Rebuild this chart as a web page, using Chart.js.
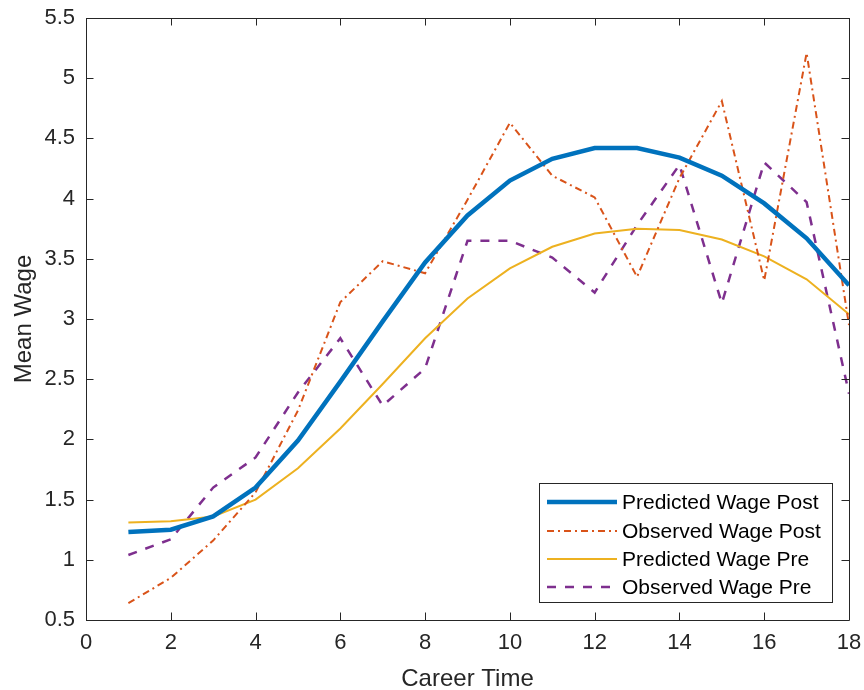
<!DOCTYPE html>
<html>
<head>
<meta charset="utf-8">
<script src="https://cdn.jsdelivr.net/npm/chart.js@4/dist/chart.umd.min.js"></script>
<style>
html,body{margin:0;padding:0;background:#fff;}
#wrap{width:864px;height:690px;position:relative;}
</style>
</head>
<body>
<div id="wrap"><canvas id="c" width="864" height="690"></canvas></div>
<script>
const careerTime = [1,2,3,4,5,6,7,8,9,10,11,12,13,14,15,16,17,18];
const predictedWagePost = [1.23,1.25,1.36,1.60,1.99,2.48,2.98,3.47,3.86,4.15,4.33,4.42,4.42,4.34,4.19,3.96,3.67,3.28];
const observedWagePost  = [0.64,0.85,1.16,1.56,2.24,3.14,3.48,3.38,3.99,4.63,4.19,4.01,3.35,4.17,4.81,3.32,5.21,2.95];
const predictedWagePre  = [1.31,1.32,1.36,1.50,1.76,2.09,2.46,2.84,3.17,3.42,3.60,3.71,3.75,3.74,3.66,3.52,3.33,3.04];
const observedWagePre   = [1.04,1.17,1.60,1.85,2.39,2.84,2.28,2.59,3.65,3.65,3.51,3.22,3.78,4.28,3.13,4.30,3.97,2.38];
const seriesNames = ['Predicted Wage Post','Observed Wage Post','Predicted Wage Pre','Observed Wage Pre'];
const xTitle = 'Career Time';
const yTitle = 'Mean Wage';

const FONT = '"Liberation Sans", Arial, Helvetica, sans-serif';
const AX = '#262626';
const pts = arr => careerTime.map((x,i)=>({x:x,y:arr[i]}));

const boxPlugin = {
  id:'matlabBox',
  afterDraw(chart){
    const ctx = chart.ctx, a = chart.chartArea;
    const xs = chart.scales.x, ys = chart.scales.y;
    ctx.save();
    ctx.strokeStyle = AX; ctx.lineWidth = 1;
    ctx.beginPath();
    ctx.rect(Math.round(a.left)+0.5, Math.round(a.top)+0.5, Math.round(a.right-a.left), Math.round(a.bottom-a.top));
    ctx.stroke();
    const TL = 7.5;
    ctx.beginPath();
    xs.ticks.forEach(t=>{
      const px = Math.round(xs.getPixelForValue(t.value))+0.5;
      ctx.moveTo(px,a.bottom); ctx.lineTo(px,a.bottom-TL);
      ctx.moveTo(px,a.top); ctx.lineTo(px,a.top+TL);
    });
    ys.ticks.forEach(t=>{
      const py = Math.round(ys.getPixelForValue(t.value))+0.5;
      ctx.moveTo(a.left,py); ctx.lineTo(a.left+TL,py);
      ctx.moveTo(a.right,py); ctx.lineTo(a.right-TL,py);
    });
    ctx.stroke();
    // axis titles
    ctx.fillStyle = AX;
    ctx.font = '24px ' + FONT;
    ctx.textAlign = 'center'; ctx.textBaseline = 'middle';
    ctx.fillText(xTitle, (a.left+a.right)/2, 679);
    ctx.save();
    ctx.translate(24, (a.top+a.bottom)/2);
    ctx.rotate(-Math.PI/2);
    ctx.fillText(yTitle, 0, 0);
    ctx.restore();
    // legend
    const bx=539.5, by=483.5, bw=293, bh=119;
    ctx.fillStyle='#fff';
    ctx.fillRect(bx,by,bw,bh);
    ctx.strokeStyle='#262626'; ctx.lineWidth=1;
    ctx.strokeRect(bx,by,bw,bh);
    const rowY=[502,531,559,587];
    ctx.font='21px ' + FONT;
    ctx.textAlign='left'; ctx.textBaseline='middle';
    chart.data.datasets.forEach((ds,i)=>{
      ctx.save();
      ctx.strokeStyle=ds.borderColor; ctx.lineWidth=ds.borderWidth;
      ctx.setLineDash(ds.borderDash||[]);
      ctx.beginPath(); ctx.moveTo(547,rowY[i]); ctx.lineTo(617,rowY[i]); ctx.stroke();
      ctx.restore();
      ctx.fillStyle='#000';
      ctx.fillText(ds.label, 622, rowY[i]+1);
    });
    ctx.restore();
  }
};

new Chart(document.getElementById('c'), {
  type:'line',
  data:{
    datasets:[
      {label:seriesNames[0], data:pts(predictedWagePost), borderColor:'#0072BD', borderWidth:4.5, pointRadius:0, tension:0, fill:false},
      {label:seriesNames[1], data:pts(observedWagePost), borderColor:'#D95319', borderWidth:2, borderDash:[7,4,2,4], pointRadius:0, tension:0, fill:false},
      {label:seriesNames[2], data:pts(predictedWagePre), borderColor:'#EDB120', borderWidth:2, pointRadius:0, tension:0, fill:false},
      {label:seriesNames[3], data:pts(observedWagePre), borderColor:'#7E2F8E', borderWidth:2.5, borderDash:[9,9], pointRadius:0, tension:0, fill:false}
    ]
  },
  options:{
    responsive:false, animation:false, devicePixelRatio:1,
    layout:{padding:{top:18,right:15,bottom:0,left:0}},
    plugins:{legend:{display:false}, tooltip:{enabled:false}},
    scales:{
      x:{type:'linear', min:0, max:18,
         ticks:{stepSize:2, color:AX, font:{family:FONT,size:22}, padding:10, maxRotation:0},
         grid:{display:false, drawTicks:false}, border:{display:false},
         afterFit(s){ s.height = 70; s.paddingLeft = 0; s.paddingRight = 0; }},
      y:{type:'linear', min:0.5, max:5.5,
         ticks:{stepSize:0.5, color:AX, font:{family:FONT,size:22}, padding:11,
                callback:v=>String(Math.round(v*10)/10)},
         grid:{display:false, drawTicks:false}, border:{display:false},
         afterFit(s){ s.width = 86; s.paddingTop = 0; s.paddingBottom = 0; }}
    }
  },
  plugins:[boxPlugin]
});
</script>
</body>
</html>
